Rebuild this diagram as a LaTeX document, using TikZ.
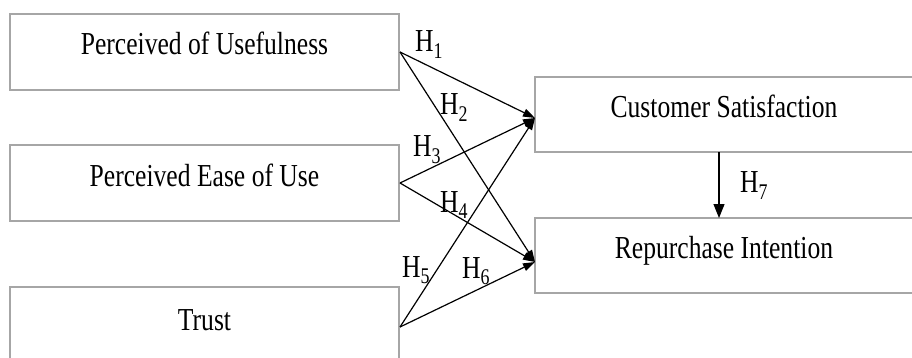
\documentclass[tikz,border=0pt]{standalone}
\usepackage{fontspec}
\setmainfont[FakeStretch=0.8]{Liberation Serif}
\usetikzlibrary{arrows.meta}
\begin{document}
\begin{tikzpicture}[x=1pt,y=-1pt,
  box/.style={draw=black!35, line width=2pt, inner sep=0pt,
    text height=22pt, text depth=16pt,
    font=\fontsize{32}{38}\selectfont},
  leftbox/.style={box, minimum width=389pt, minimum height=76pt},
  rightbox/.style={box, minimum width=378pt, minimum height=75pt},
  hyp/.style={anchor=base west, inner sep=0pt, font=\fontsize{32}{38}\selectfont},
  link/.style={draw=black, line width=1.2pt, -{Triangle[length=12pt,width=8pt]}},
  every node/.style={}
]
\useasboundingbox (0,0) rectangle (912,358);

% constructs
\node[leftbox] (pu)  at (204.5,52)  {Perceived of Usefulness};
\node[leftbox] (peu) at (204.5,183) {Perceived Ease of Use};
\node[leftbox, minimum height=80pt] (tr) at (204.5,327) {Trust};
\node[rightbox] (cs) at (724,114.5) {Customer Satisfaction};
\node[rightbox] (ri) at (724,255.5) {Repurchase Intention};

% entry points of the arrows
\coordinate (csin) at (535,118);
\coordinate (riin) at (535,262);
\coordinate (csout) at (719,152);
\coordinate (riup) at (719,218);

% hypothesised paths
\draw[link] (pu.east) -- (csin);
\draw[link] (pu.east) -- (riin);
\draw[link] (peu.east) -- (csin);
\draw[link] (peu.east) -- (riin);
\draw[link] (tr.east) -- (csin);
\draw[link] (tr.east) -- (riin);
\draw[link, -{Triangle[length=14pt,width=11pt]}] (csout) -- (riup);

% path labels
\node[hyp] (h1) at (415,52)  {H\textsubscript{1}};
\node[hyp] (h2) at (440,115) {H\textsubscript{2}};
\node[hyp] (h3) at (413,157) {H\textsubscript{3}};
\node[hyp] (h4) at (440,212) {H\textsubscript{4}};
\node[hyp] (h5) at (402,277) {H\textsubscript{5}};
\node[hyp] (h6) at (462,278) {H\textsubscript{6}};
\node[hyp] (h7) at (740,193) {H\textsubscript{7}};
\end{tikzpicture}
\end{document}
